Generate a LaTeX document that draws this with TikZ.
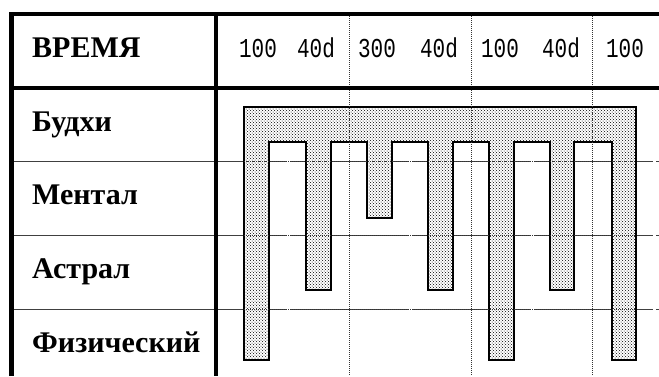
\documentclass[tikz,border=0pt]{standalone}
\usepackage{fontspec}
\setmainfont{Liberation Serif}
\setmonofont{Liberation Mono}
\usetikzlibrary{patterns}

\begin{document}
\begin{tikzpicture}[x=1pt, y=-1pt,
  frame/.style={line width=4.5pt, black},
  rowline/.style={line width=1.5pt, black!75},
  gapline/.style={rowline, dash pattern=on 119pt off 3pt, dash phase=48pt},
  grid/.style={line width=1pt, densely dotted, black!80},
  comb/.style={preaction={fill=white}, pattern=crosshatch dots, draw=black, line width=1.3pt},
  plane/.style={anchor=base west, inner sep=0pt, font=\fontsize{30}{30}\selectfont\bfseries},
  tick/.style={anchor=base, inner sep=0pt, font=\fontsize{21}{21}\selectfont\ttfamily}]
\useasboundingbox (0,0) rectangle (659,376);

% row separators
\foreach \y in {161.5,235.5,309.5} {
  \draw[rowline] (11.5,\y) -- (216,\y);
  \draw[gapline] (216,\y) -- (659,\y);
}

% the comb
\draw[comb] (244,107) -- (636,107) -- (636,360) -- (612,360) -- (612,142)
  -- (574,142) -- (574,290) -- (550,290) -- (550,142)
  -- (514,142) -- (514,360) -- (489,360) -- (489,142)
  -- (453,142) -- (453,290) -- (428,290) -- (428,142)
  -- (392,142) -- (392,218) -- (367,218) -- (367,142)
  -- (331,142) -- (331,290) -- (306,290) -- (306,142)
  -- (269,142) -- (269,360) -- (244,360) -- cycle;

% rows seen through the comb
\foreach \y in {161.5,235.5,309.5}
  \draw[grid] (244,\y) -- (636,\y);

% period marks
\foreach \x in {349,471,592}
  \draw[grid] (\x,14) -- (\x,376);

% frame
\draw[frame] (11.5,376) -- (11.5,14) -- (659,14);
\draw[frame] (11.5,88) -- (659,88);
\draw[frame] (216,14) -- (216,376);

\node[plane] (time) at (32,57) {ВРЕМЯ};
\node[plane] (buddhi) at (32,131) {Будхи};
\node[plane] (mental) at (32,204) {Ментал};
\node[plane] (astral) at (32,278) {Астрал};
\node[plane] (phys) at (32,352) {Физический};

\node[tick] (t1) at (258,57) {\scalebox{1}[1.3]{100}};
\node[tick] (t2) at (316,57) {\scalebox{1}[1.3]{40d}};
\node[tick] (t3) at (377,57) {\scalebox{1}[1.3]{300}};
\node[tick] (t4) at (439,57) {\scalebox{1}[1.3]{40d}};
\node[tick] (t5) at (500,57) {\scalebox{1}[1.3]{100}};
\node[tick] (t6) at (561,57) {\scalebox{1}[1.3]{40d}};
\node[tick] (t7) at (625,57) {\scalebox{1}[1.3]{100}};
\end{tikzpicture}
\end{document}
